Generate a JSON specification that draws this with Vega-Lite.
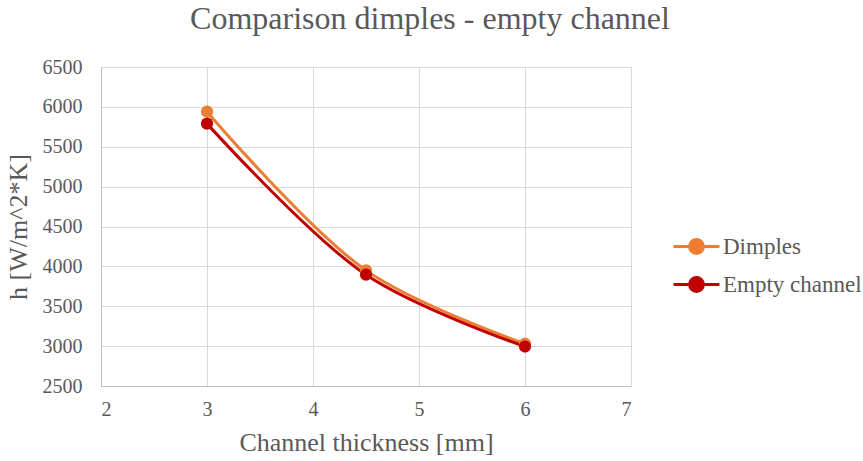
{
  "$schema": "https://vega.github.io/schema/vega-lite/v6.json",
  "width": 530,
  "height": 319,
  "autosize": {"type": "none"},
  "padding": {"left": 101, "top": 67, "right": 232, "bottom": 75},
  "background": "white",
  "title": {
    "text": "Comparison dimples - empty channel",
    "font": "Liberation Serif",
    "fontSize": 32,
    "fontWeight": "normal",
    "color": "#595959",
    "anchor": "middle",
    "dx": 64,
    "offset": 21
  },
  "data": {
    "values": [
      {"series": "Dimples", "thickness": 3, "h": 5940},
      {"series": "Dimples", "thickness": 4.5, "h": 3950},
      {"series": "Dimples", "thickness": 6, "h": 3030},
      {"series": "Empty channel", "thickness": 3, "h": 5790},
      {"series": "Empty channel", "thickness": 4.5, "h": 3895},
      {"series": "Empty channel", "thickness": 6, "h": 2995}
    ]
  },
  "encoding": {
    "x": {
      "field": "thickness",
      "type": "quantitative",
      "scale": {"domain": [2, 7], "nice": false, "zero": false},
      "axis": {
        "title": "Channel thickness [mm]",
        "values": [2, 3, 4, 5, 6, 7],
        "format": "d",
        "grid": true,
        "gridColor": "#d9d9d9",
        "domainColor": "#bfbfbf",
        "ticks": false,
        "labelPadding": 13,
        "titlePadding": 10,
        "labelFont": "Liberation Serif",
        "labelFontSize": 20,
        "labelColor": "#595959",
        "titleFont": "Liberation Serif",
        "titleFontSize": 26,
        "titleFontWeight": "normal",
        "titleColor": "#595959"
      }
    },
    "y": {
      "field": "h",
      "type": "quantitative",
      "scale": {"domain": [2500, 6500], "nice": false, "zero": false},
      "axis": {
        "title": "h [W/m^2*K]",
        "values": [2500, 3000, 3500, 4000, 4500, 5000, 5500, 6000, 6500],
        "format": "d",
        "grid": true,
        "gridColor": "#d9d9d9",
        "domainColor": "#bfbfbf",
        "ticks": false,
        "labelPadding": 19,
        "titlePadding": 11,
        "labelFont": "Liberation Serif",
        "labelFontSize": 20,
        "labelColor": "#595959",
        "titleFont": "Liberation Serif",
        "titleFontSize": 26,
        "titleFontWeight": "normal",
        "titleColor": "#595959"
      }
    },
    "color": {
      "field": "series",
      "type": "nominal",
      "scale": {"domain": ["Dimples", "Empty channel"], "range": ["#ED7D31", "#C00000"]},
      "legend": {
        "title": null,
        "orient": "none",
        "legendX": 571,
        "legendY": 155,
        "symbolType": "M-1,0L1,0M-0.3,0A0.3,0.3,0,1,1,0.3,0A0.3,0.3,0,1,1,-0.3,0Z",
        "symbolSize": 2116,
        "symbolStrokeWidth": 3,
        "rowPadding": -6,
        "labelOffset": 2,
        "labelFont": "Liberation Serif",
        "labelFontSize": 23,
        "labelColor": "#595959",
        "encode": {
          "symbols": {"update": {"fill": {"scale": "color", "field": "value"}, "fillOpacity": {"value": 1}}}
        }
      }
    }
  },
  "layer": [
    {
      "mark": {"type": "line", "interpolate": "catmull-rom", "strokeWidth": 3},
      "encoding": {"detail": {"field": "series"}}
    },
    {
      "mark": {"type": "point", "filled": true, "opacity": 1, "size": 150}
    }
  ],
  "config": {
    "view": {"stroke": "#d9d9d9"}
  }
}
